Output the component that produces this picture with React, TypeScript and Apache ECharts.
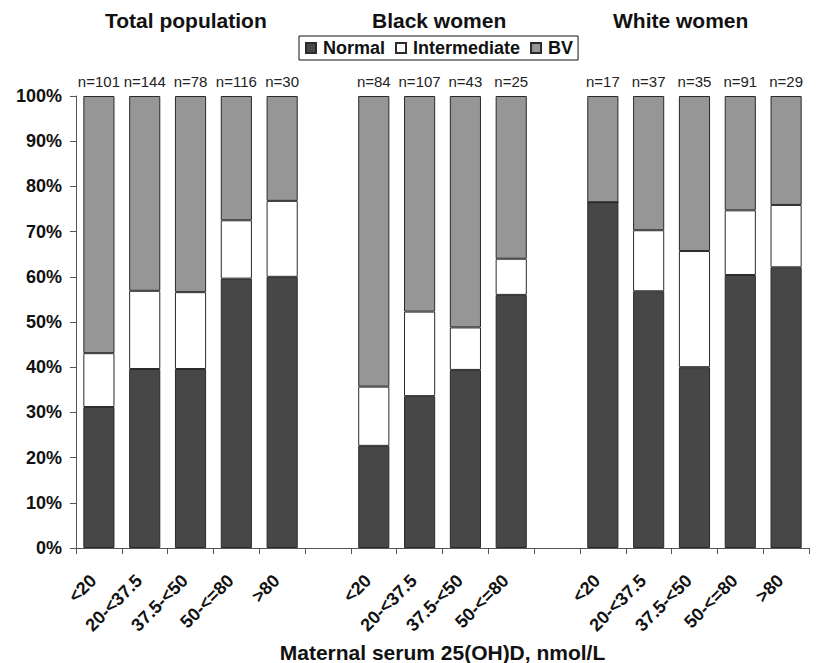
import React, { useEffect, useRef } from "react";
import * as echarts from "echarts";

const groupTitles = ["Total population", "Black women", "White women"];
const bandLabels5 = ["<20", "20-<37.5", "37.5-<50", "50-<=80", ">80"];
const bandLabels4 = ["<20", "20-<37.5", "37.5-<50", "50-<=80"];

const totalNormal = [31.2, 39.6, 39.6, 59.6, 60.0];
const totalInter = [11.9, 17.3, 17.0, 12.9, 16.8];
const totalBV = [56.9, 43.1, 43.4, 27.5, 23.2];
const totalN = ["n=101", "n=144", "n=78", "n=116", "n=30"];

const blackNormal = [22.6, 33.6, 39.4, 56.0];
const blackInter = [13.1, 18.7, 9.4, 8.0];
const blackBV = [64.3, 47.7, 51.2, 36.0];
const blackN = ["n=84", "n=107", "n=43", "n=25"];

const whiteNormal = [76.5, 56.8, 40.0, 60.4, 62.1];
const whiteInter = [0, 13.5, 25.7, 14.3, 13.8];
const whiteBV = [23.5, 29.7, 34.3, 25.3, 24.1];
const whiteN = ["n=17", "n=37", "n=35", "n=91", "n=29"];

const yTicks = [0, 10, 20, 30, 40, 50, 60, 70, 80, 90, 100];

const categories = [...bandLabels5, "", ...bandLabels4, "", ...bandLabels5];
const join = (a: any[], b: any[], c: any[]) => [...a, null, ...b, null, ...c];
const normalData = join(totalNormal, blackNormal, whiteNormal);
const interData = join(totalInter, blackInter, whiteInter);
const bvData = join(totalBV, blackBV, whiteBV);
const nLabels = join(totalN, blackN, whiteN);

const FONT = "'Liberation Sans', Arial, sans-serif";

export default function App() {
  const ref = useRef<HTMLDivElement>(null);
  useEffect(() => {
    if (!ref.current) return;
    const chart = echarts.init(ref.current, null, { renderer: "svg" });
    const border = { borderColor: "#2a2a2a", borderWidth: 1 };
    const titleFont = `bold 21px ${FONT}`;
    chart.setOption({
      animation: false,
      backgroundColor: "#fff",
      textStyle: { fontFamily: FONT },
      legend: {
        data: ["Normal", "Intermediate", "BV"],
        left: 299,
        top: 36,
        padding: [3, 5, 3, 6],
        borderColor: "#111",
        borderWidth: 1,
        itemWidth: 10,
        itemHeight: 10,
        itemGap: 10,
        icon: "rect",
        textStyle: { fontFamily: FONT, fontWeight: "bold", fontSize: 18, color: "#111", padding: [0, 0, 0, 2] },
      },
      graphic: [
        { type: "text", left: 105, top: 10, style: { text: groupTitles[0], font: titleFont, fill: "#111" } },
        { type: "text", left: 372, top: 10, style: { text: groupTitles[1], font: titleFont, fill: "#111" } },
        { type: "text", left: 613, top: 10, style: { text: groupTitles[2], font: titleFont, fill: "#111" } },
      ],
      grid: { left: 76, right: 8, top: 96, bottom: 115, containLabel: false, outerBoundsMode: "none" },
      xAxis: {
        type: "category",
        data: categories,
        boundaryGap: true,
        name: "Maternal serum 25(OH)D, nmol/L",
        nameLocation: "middle",
        nameGap: 85,
        nameTextStyle: { fontFamily: FONT, fontWeight: "bold", fontSize: 21, color: "#111", verticalAlign: "top" },
        axisLine: { lineStyle: { color: "#555", width: 1 } },
        axisTick: { show: true, length: 6, alignWithLabel: false, lineStyle: { color: "#555" } },
        axisLabel: {
          interval: 0,
          rotate: 45,
          margin: 24,
          padding: [0, 8, 0, 0],
          fontFamily: FONT,
          fontWeight: "bold",
          fontSize: 18,
          color: "#111",
        },
      },
      yAxis: {
        type: "value",
        min: yTicks[0],
        max: yTicks[yTicks.length - 1],
        interval: 10,
        splitLine: { show: false },
        axisLine: { show: true, lineStyle: { color: "#555", width: 1 } },
        axisTick: { show: true, length: 6, lineStyle: { color: "#555" } },
        axisLabel: {
          formatter: "{value}%",
          fontFamily: FONT,
          fontWeight: "bold",
          fontSize: 18,
          color: "#111",
          margin: 14,
        },
      },
      series: [
        {
          name: "Normal",
          type: "bar",
          stack: "s",
          barWidth: "68%",
          data: normalData,
          itemStyle: { color: "#474747", ...border },
        },
        {
          name: "Intermediate",
          type: "bar",
          stack: "s",
          data: interData,
          itemStyle: { color: "#ffffff", ...border },
        },
        {
          name: "BV",
          type: "bar",
          stack: "s",
          data: bvData,
          itemStyle: { color: "#969696", ...border },
          label: {
            show: true,
            position: "top",
            distance: 7,
            fontFamily: FONT,
            fontSize: 15,
            color: "#222",
            formatter: (p: any) => nLabels[p.dataIndex] || "",
          },
        },
      ],
    });
    return () => chart.dispose();
  }, []);
  return (
    <div
      ref={ref}
      style={{ position: "absolute", left: 0, top: 0, width: 817, height: 663 }}
    />
  );
}
